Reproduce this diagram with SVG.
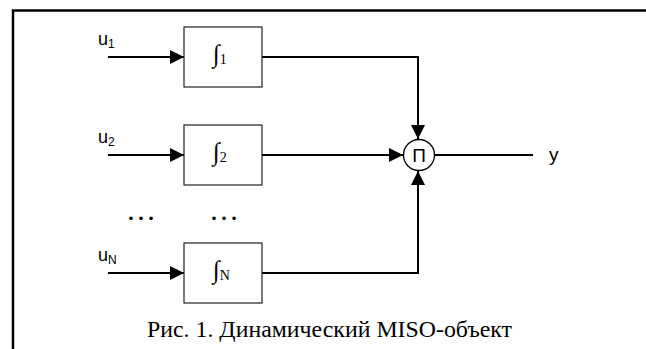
<svg xmlns="http://www.w3.org/2000/svg" width="646" height="349" viewBox="0 0 646 349">
  <style>
    .frame { fill: none; stroke: #000; stroke-width: 2.5; }
    .block { fill: #fff; stroke: #222; stroke-width: 1.2; }
    .wire { fill: none; stroke: #000; stroke-width: 2; }
    .sans { font-family: "Liberation Sans", Arial, sans-serif; fill: #000; }
    .serif { font-family: "Liberation Serif", "Times New Roman", serif; fill: #000; }
    .lbl { font-size: 18px; }
    .sub { font-size: 12px; }
  </style>
  <defs>
    <marker id="arrow" markerUnits="userSpaceOnUse" markerWidth="15" markerHeight="14" refX="14" refY="7" orient="auto">
      <path d="M0,0 L14,7 L0,14 Z" fill="#000"/>
    </marker>
  </defs>

  <rect width="646" height="349" fill="#fff"/>
  <!-- page frame -->
  <path class="frame" d="M13,349 V10.5 H646"/>

  <!-- connectors -->
  <g id="connectors">
    <line class="wire" x1="108" y1="57" x2="184" y2="57" marker-end="url(#arrow)"/>
    <line class="wire" x1="108" y1="155" x2="184" y2="155" marker-end="url(#arrow)"/>
    <line class="wire" x1="108" y1="273" x2="184" y2="273" marker-end="url(#arrow)"/>
    <path class="wire" d="M262,57 H418 V139" marker-end="url(#arrow)"/>
    <line class="wire" x1="262" y1="155" x2="403" y2="155" marker-end="url(#arrow)"/>
    <path class="wire" d="M262,273 H418 V171" marker-end="url(#arrow)"/>
    <line class="wire" x1="434" y1="155" x2="533" y2="155"/>
  </g>

  <!-- inputs -->
  <g id="input-u1">
    <text class="sans lbl" x="98" y="45">u<tspan class="sub" dy="3">1</tspan></text>
  </g>
  <g id="input-u2">
    <text class="sans lbl" x="98" y="143">u<tspan class="sub" dy="3">2</tspan></text>
  </g>
  <g id="input-uN">
    <text class="sans lbl" x="98" y="261">u<tspan class="sub" dy="3">N</tspan></text>
  </g>

  <!-- integrator blocks -->
  <g id="block-1">
    <rect class="block" x="184" y="27" width="78" height="60"/>
    <text class="serif" x="213" y="62" font-size="25">∫<tspan font-size="14" dy="2">1</tspan></text>
  </g>
  <g id="block-2">
    <rect class="block" x="184" y="125" width="78" height="60"/>
    <text class="serif" x="213" y="160" font-size="25">∫<tspan font-size="14" dy="2">2</tspan></text>
  </g>
  <g id="block-N">
    <rect class="block" x="184" y="243" width="78" height="60"/>
    <text class="serif" x="213" y="278" font-size="25">∫<tspan font-size="14" dy="2">N</tspan></text>
  </g>

  <!-- ellipses between rows -->
  <g id="dots">
    <text class="serif" x="126" y="220" font-size="30">…</text>
    <text class="serif" x="209" y="220" font-size="30">…</text>
  </g>

  <!-- product node -->
  <g id="product">
    <circle cx="419" cy="155" r="15.5" fill="#fff" stroke="#000" stroke-width="1.3"/>
    <text class="sans" x="419" y="162" font-size="19" text-anchor="middle">П</text>
  </g>

  <!-- output -->
  <g id="output-y">
    <text class="sans" x="549" y="161" font-size="19">y</text>
  </g>

  <!-- caption -->
  <g id="caption">
    <text class="serif" x="147" y="337" font-size="23" textLength="365" lengthAdjust="spacingAndGlyphs">Рис. 1. Динамический MISO-объект</text>
  </g>
</svg>
